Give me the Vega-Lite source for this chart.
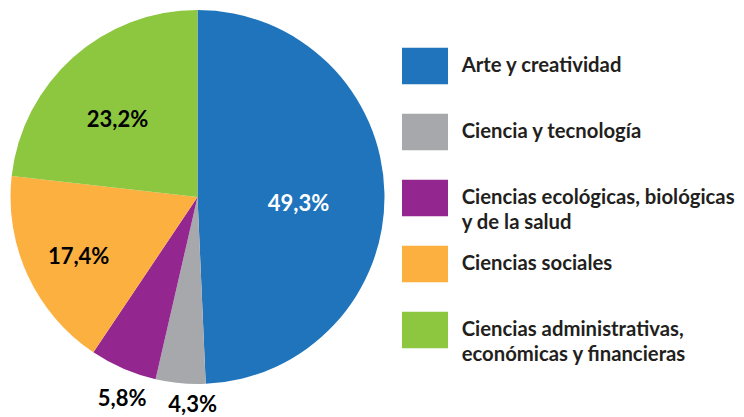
{
  "$schema": "https://vega.github.io/schema/vega-lite/v6.json",
  "padding": 0,
  "background": "white",
  "autosize": {"type": "pad"},
  "spacing": 0,
  "bounds": "flush",
  "config": {
    "view": {"stroke": null},
    "font": "Lato",
    "locale": {"number": {"decimal": ",", "thousands": ".", "grouping": [3], "currency": ["", " €"]}}
  },
  "data": {
    "values": [
      {"orden": 1, "categoria": "Arte y creatividad", "leyenda": "Arte y creatividad", "valor": 0.493},
      {"orden": 2, "categoria": "Ciencia y tecnología", "leyenda": "Ciencia y tecnología", "valor": 0.043},
      {"orden": 3, "categoria": "Ciencias ecológicas, biológicas y de la salud", "leyenda": "Ciencias ecológicas, biológicas\ny de la salud", "valor": 0.058},
      {"orden": 4, "categoria": "Ciencias sociales", "leyenda": "Ciencias sociales", "valor": 0.174},
      {"orden": 5, "categoria": "Ciencias administrativas, económicas y financieras", "leyenda": "Ciencias administrativas,\neconómicas y financieras", "valor": 0.232}
    ]
  },
  "hconcat": [
    {
      "width": 395,
      "height": 394,
      "encoding": {
        "theta": {"field": "valor", "type": "quantitative", "stack": true},
        "order": {"field": "orden", "type": "quantitative", "sort": "ascending"}
      },
      "layer": [
        {
          "mark": {"type": "arc", "radius": 187},
          "encoding": {
            "color": {
              "field": "categoria", "type": "nominal", "legend": null,
              "scale": {
                "domain": ["Arte y creatividad", "Ciencia y tecnología", "Ciencias ecológicas, biológicas y de la salud", "Ciencias sociales", "Ciencias administrativas, económicas y financieras"],
                "range": ["#1f74bc", "#a7a8ab", "#93278f", "#fbb040", "#8dc63f"]
              }
            }
          }
        },
        {
          "mark": {"type": "text", "radius": 101, "dy": 9, "fontSize": 22, "fontWeight": "bold", "color": "white"},
          "encoding": {
            "detail": {"field": "categoria"},
            "text": {"condition": {"test": "datum.categoria === 'Arte y creatividad'", "field": "valor", "format": ".1%"}, "value": ""}
          }
        },
        {
          "mark": {"type": "text", "radius": 111, "dx": -6, "dy": 6, "fontSize": 22, "fontWeight": "bold", "color": "#000000"},
          "encoding": {
            "detail": {"field": "categoria"},
            "text": {"condition": {"test": "datum.categoria === 'Ciencias administrativas, económicas y financieras'", "field": "valor", "format": ".1%"}, "value": ""}
          }
        },
        {
          "mark": {"type": "text", "radius": 131, "dy": 5, "fontSize": 22, "fontWeight": "bold", "color": "#000000"},
          "encoding": {
            "detail": {"field": "categoria"},
            "text": {"condition": {"test": "datum.categoria === 'Ciencias sociales'", "field": "valor", "format": ".1%"}, "value": ""}
          }
        },
        {
          "mark": {"type": "text", "radius": 215, "dx": 10, "dy": 5, "fontSize": 22, "fontWeight": "bold", "color": "#000000"},
          "encoding": {
            "detail": {"field": "categoria"},
            "text": {"condition": {"test": "datum.categoria === 'Ciencias ecológicas, biológicas y de la salud'", "field": "valor", "format": ".1%"}, "value": ""}
          }
        },
        {
          "mark": {"type": "text", "radius": 208, "dx": 14, "dy": 1, "fontSize": 22, "fontWeight": "bold", "color": "#000000"},
          "encoding": {
            "detail": {"field": "categoria"},
            "text": {"condition": {"test": "datum.categoria === 'Ciencia y tecnología'", "field": "valor", "format": ".1%"}, "value": ""}
          }
        }
      ]
    },
    {
      "width": 60,
      "height": 396,
      "encoding": {
        "y": {
          "field": "categoria", "type": "nominal", "axis": null,
          "scale": {
            "domain": ["Arte y creatividad", "Ciencia y tecnología", "Ciencias ecológicas, biológicas y de la salud", "Ciencias sociales", "Ciencias administrativas, económicas y financieras"],
            "padding": 1.09375
          }
        }
      },
      "layer": [
        {
          "mark": {"type": "point", "shape": "M-1.26,-1H1.26V1H-1.26Z", "size": 1332, "filled": true, "opacity": 1, "strokeWidth": 0},
          "encoding": {
            "color": {
              "field": "categoria", "type": "nominal", "legend": null,
              "scale": {
                "domain": ["Arte y creatividad", "Ciencia y tecnología", "Ciencias ecológicas, biológicas y de la salud", "Ciencias sociales", "Ciencias administrativas, económicas y financieras"],
                "range": ["#1f74bc", "#a7a8ab", "#93278f", "#fbb040", "#8dc63f"]
              }
            }
          }
        },
        {
          "mark": {"type": "text", "align": "left", "baseline": "middle", "dx": 36.7, "lineBreak": "\n", "lineHeight": 25, "fontSize": 20.3, "fontWeight": "bold", "color": "#231f20"},
          "encoding": {"text": {"field": "leyenda"}}
        }
      ]
    }
  ]
}
